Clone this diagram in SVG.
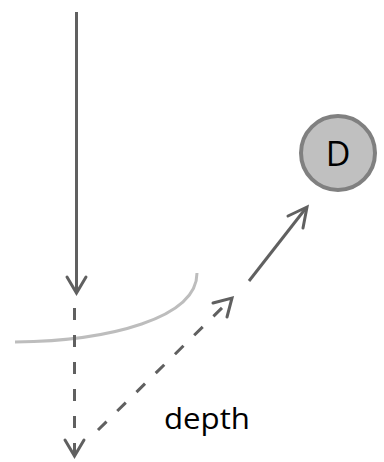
<svg xmlns="http://www.w3.org/2000/svg" width="384" height="462" viewBox="0 0 384 462">
<defs>
<style>
.ln{stroke:#606060;stroke-width:3;fill:none;stroke-linecap:butt}
.dash{stroke-dasharray:12 15}
.head{stroke:#606060;stroke-width:3;fill:none;stroke-linejoin:miter;stroke-linecap:round}
.arc{stroke:#bdbdbd;stroke-width:3;fill:none}
.lbl{font-family:"Open Sans","Liberation Sans",sans-serif;fill:#000}
</style>
</defs>
<g id="surface">
<path class="arc" d="M15,342 C110,341 197,318 197,273"/>
</g>
<g id="node-D">
<circle cx="338" cy="153" r="37" fill="#c0c0c0" stroke="#808080" stroke-width="4"/>
<text class="lbl" x="338" y="166" font-size="34" text-anchor="middle">D</text>
</g>
<g id="label-depth">
<text class="lbl" x="164" y="429" font-size="30" textLength="86" lengthAdjust="spacingAndGlyphs">depth</text>
</g>
<g id="connectors">
<line class="ln" x1="76.5" y1="12" x2="76.5" y2="292"/>
<polyline class="head" points="67,277 76.5,293 86,277"/>
<line class="ln dash" x1="74.5" y1="308" x2="74.5" y2="456"/>
<polyline class="head" points="65,440 74.5,456 84,440"/>
<line class="ln dash" x1="98" y1="430" x2="231" y2="299"/>
<polyline class="head" points="213,303 232,298 227,317"/>
<line class="ln" x1="249" y1="281" x2="306" y2="208"/>
<polyline class="head" points="288,216 307,207 303,228"/>
</g>
</svg>
